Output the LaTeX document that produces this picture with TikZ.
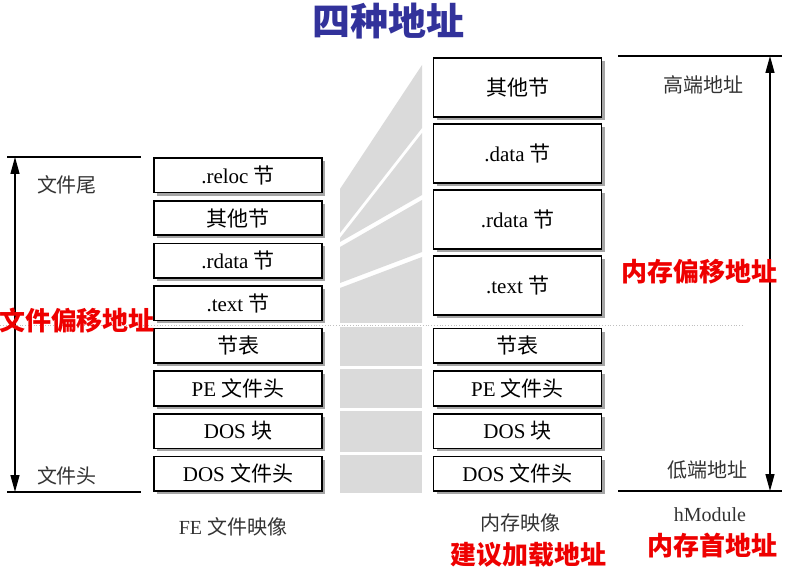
\documentclass[tikz,border=0pt]{standalone}
\usepackage{fontspec}
\setmainfont{Liberation Serif}
\newfontfamily\cjk{Noto Sans CJK SC}
\usetikzlibrary{positioning, arrows.meta, shadows}
\definecolor{titleblue}{RGB}{50,50,155}
\definecolor{markred}{RGB}{238,0,0}
\definecolor{fangray}{RGB}{218,218,218}
\tikzset{
	>={Triangle[length=17pt,width=9pt]}, % puntas de flecha rellenas
	node distance=6.6pt, % separacion entre secciones
	sect/.style={draw, line width=1.6pt, fill=white, minimum width=168pt, minimum height=34.4pt, inner sep=0pt,
		font=\fontsize{21}{24}\selectfont,
		drop shadow={shadow xshift=3pt, shadow yshift=-3pt, fill=black!70}}, % caja de seccion
	tall/.style={sect, minimum height=59pt}, % seccion alta en memoria
	note/.style={font=\fontsize{20}{24}\selectfont, text=black!80}, % texto gris
	redtag/.style={font=\fontsize{26}{30}\selectfont\cjk\bfseries, text=markred} % texto rojo
}

\begin{document}
\begin{tikzpicture}[x=1pt, y=-1pt]
	\useasboundingbox (0,0) rectangle (788,572);
	% abanico gris entre las dos columnas
	\fill[fangray] (340,189) -- (422,65) -- (422,128) -- (340,233) -- cycle;
	\fill[fangray] (340,238) -- (422,133) -- (422,195) -- (340,242) -- cycle;
	\fill[fangray] (340,247) -- (422,200) -- (422,252) -- (340,283) -- cycle;
	\fill[fangray] (340,288) -- (422,257) -- (422,323) -- (340,323) -- cycle;
	\foreach \ya/\yb in {327/366, 369/408, 411/452, 455/493}
		\fill[fangray] (340,\ya) rectangle (422,\yb);
	\draw[black!25, dotted, line width=0.8pt] (0,325) -- (743,325);

	% imagen del archivo
	\node[sect] (f0) at (238,175.5) {.reloc {\cjk 节}};
	\node[sect, below=of f0] (f1) {\cjk 其他节};
	\node[sect, below=of f1] (f2) {.rdata {\cjk 节}};
	\node[sect, below=of f2] (f3) {.text {\cjk 节}};
	\node[sect, below=of f3] (f4) {\cjk 节表};
	\node[sect, below=of f4] (f5) {PE {\cjk 文件头}};
	\node[sect, below=of f5] (f6) {DOS {\cjk 块}};
	\node[sect, below=of f6] (f7) {DOS {\cjk 文件头}};

	% imagen en memoria
	\node[sect, right=110pt of f4] (m4) {\cjk 节表};
	\node[sect, right=110pt of f5] (m5) {PE {\cjk 文件头}};
	\node[sect, right=110pt of f6] (m6) {DOS {\cjk 块}};
	\node[sect, right=110pt of f7] (m7) {DOS {\cjk 文件头}};
	\node[tall, above=12pt of m4] (m3) {.text {\cjk 节}};
	\node[tall, above=5.5pt of m3] (m2) {.rdata {\cjk 节}};
	\node[tall, above=5.5pt of m2] (m1) {.data {\cjk 节}};
	\node[tall, above=5.5pt of m1] (m0) {\cjk 其他节};

	% escalas de direcciones
	\coordinate (ftopL) at (7,157);   \coordinate (ftopR) at (141,157);
	\coordinate (fbotL) at (7,492);   \coordinate (fbotR) at (141,492);
	\coordinate (fup) at (15,157);    \coordinate (fdown) at (15,492);
	\coordinate (mtopL) at (618,56);  \coordinate (mtopR) at (782,56);
	\coordinate (mbotL) at (618,491); \coordinate (mbotR) at (782,491);
	\coordinate (mup) at (770,56);    \coordinate (mdown) at (770,491);
	\draw[line width=1.3pt] (ftopL) -- (ftopR) (fbotL) -- (fbotR);
	\draw[line width=1.3pt] (mtopL) -- (mtopR) (mbotL) -- (mbotR);
	\draw[line width=1.3pt, <->] (fup) -- (fdown);
	\draw[line width=1.3pt, <->] (mup) -- (mdown);

	% rotulos
	\node[note] (ftail) at (67,185) {\cjk 文件尾};
	\node[note] (fhead) at (67,476) {\cjk 文件头};
	\node[note] (mhigh) at (703,85) {\cjk 高端地址};
	\node[note] (mlow) at (707,470) {\cjk 低端地址};
	\node[note] (fcap) at (233,527) {FE {\cjk 文件映像}};
	\node[note] (mcap) at (520,523) {\cjk 内存映像};
	\node[note] (hmod) at (710,515) {hModule};

	\node[redtag] (foff) at (77,321) {文件偏移地址};
	\node[redtag] (moff) at (699,272) {内存偏移地址};
	\node[redtag] (prefer) at (528,555) {建议加载地址};
	\node[redtag] (mbase) at (712,546) {内存首地址};
	\node[font=\fontsize{38}{42}\selectfont\cjk\bfseries, text=titleblue] (title) at (388,21) {四种地址};
\end{tikzpicture}
\end{document}
